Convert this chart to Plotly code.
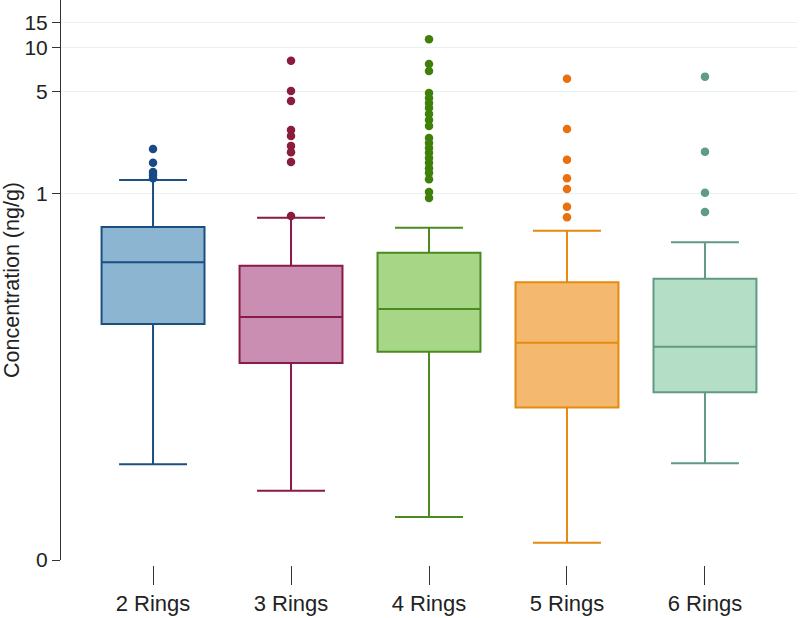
import plotly.graph_objects as go
import math

categories = ["2 Rings", "3 Rings", "4 Rings", "5 Rings", "6 Rings"]

q1 = [0.126, 0.0679, 0.0813, 0.0336, 0.0427]
median = [0.336, 0.141, 0.160, 0.0937, 0.0880]
q3 = [0.586, 0.318, 0.390, 0.244, 0.258]
lower_fence = [0.0137, 0.00898, 0.00592, 0.00394, 0.0139]
upper_fence = [1.235, 0.680, 0.580, 0.553, 0.460]

outliers = [
    [2.02, 1.62, 1.40, 1.34, 1.27],
    [8.18, 5.06, 4.31, 2.73, 2.48, 2.12, 1.92, 1.64, 0.698],
    [11.5, 7.76, 6.95, 4.90, 4.53, 4.18, 3.86, 3.51, 3.20, 2.91,
     2.40, 2.22, 2.05, 1.90, 1.75, 1.62, 1.49, 1.38, 1.25, 1.02, 0.93],
    [6.15, 2.77, 1.70, 1.27, 1.07, 0.809, 0.684],
    [6.35, 1.93, 1.01, 0.743],
]

y_tick_values = [0.003, 1, 5, 10, 15]
y_tick_labels = ["0", "1", "5", "10", "15"]

fill_colors = ["#8BB5D1", "#C98EB1", "#A6D686", "#F4B96E", "#B4DEC6"]
line_colors = ["#1B4F82", "#8A1A48", "#4B8A1E", "#E48A10", "#609A85"]
point_colors = ["#1A4A85", "#8A1C3E", "#3F7F0A", "#E8700E", "#5E9C84"]

FONT = "Arial, Liberation Sans, sans-serif"

fig = go.Figure()
for i, cat in enumerate(categories):
    fig.add_trace(go.Box(
        x=[cat], q1=[q1[i]], median=[median[i]], q3=[q3[i]],
        lowerfence=[lower_fence[i]], upperfence=[upper_fence[i]],
        fillcolor=fill_colors[i],
        line=dict(color=line_colors[i], width=2),
        width=0.746,
        whiskerwidth=0.66, boxpoints=False, showlegend=False,
        name=cat,
    ))
for i, cat in enumerate(categories):
    fig.add_trace(go.Scatter(
        x=[cat] * len(outliers[i]), y=outliers[i], mode="markers",
        marker=dict(color=point_colors[i], size=8.5),
        showlegend=False,
    ))

fig.update_layout(
    width=800, height=618,
    margin=dict(l=61, r=3, t=0, b=53),
    plot_bgcolor="white", paper_bgcolor="white",
    font=dict(family=FONT, size=21, color="#222222"),
    showlegend=False,
    xaxis=dict(
        type="category", categoryorder="array", categoryarray=categories,
        range=[-0.667, 4.667],
        anchor="free", position=0, automargin=False,
        showline=False, showgrid=False, zeroline=False,
        ticks="outside", ticklen=19, tickwidth=1, tickcolor="#333333",
        tickfont=dict(family=FONT, size=22, color="#222222"),
    ),
    yaxis=dict(
        type="log", automargin=False,
        domain=[5 / 565, 1],
        range=[math.log10(0.003), 1.33],
        tickvals=y_tick_values, ticktext=y_tick_labels,
        showline=True, linecolor="#333333", linewidth=1,
        showgrid=True, gridcolor="#EAF1F4", gridwidth=1,
        ticks="outside", ticklen=8, tickcolor="#333333",
        tickfont=dict(family=FONT, size=21, color="#222222"),
        title=dict(text="Concentration (ng/g)", standoff=6,
                   font=dict(family=FONT, size=21.5, color="#222222")),
        zeroline=False,
    ),
)

fig.write_html("out.html", config={"displayModeBar": False},
               post_script="document.body.style.margin='0';")
